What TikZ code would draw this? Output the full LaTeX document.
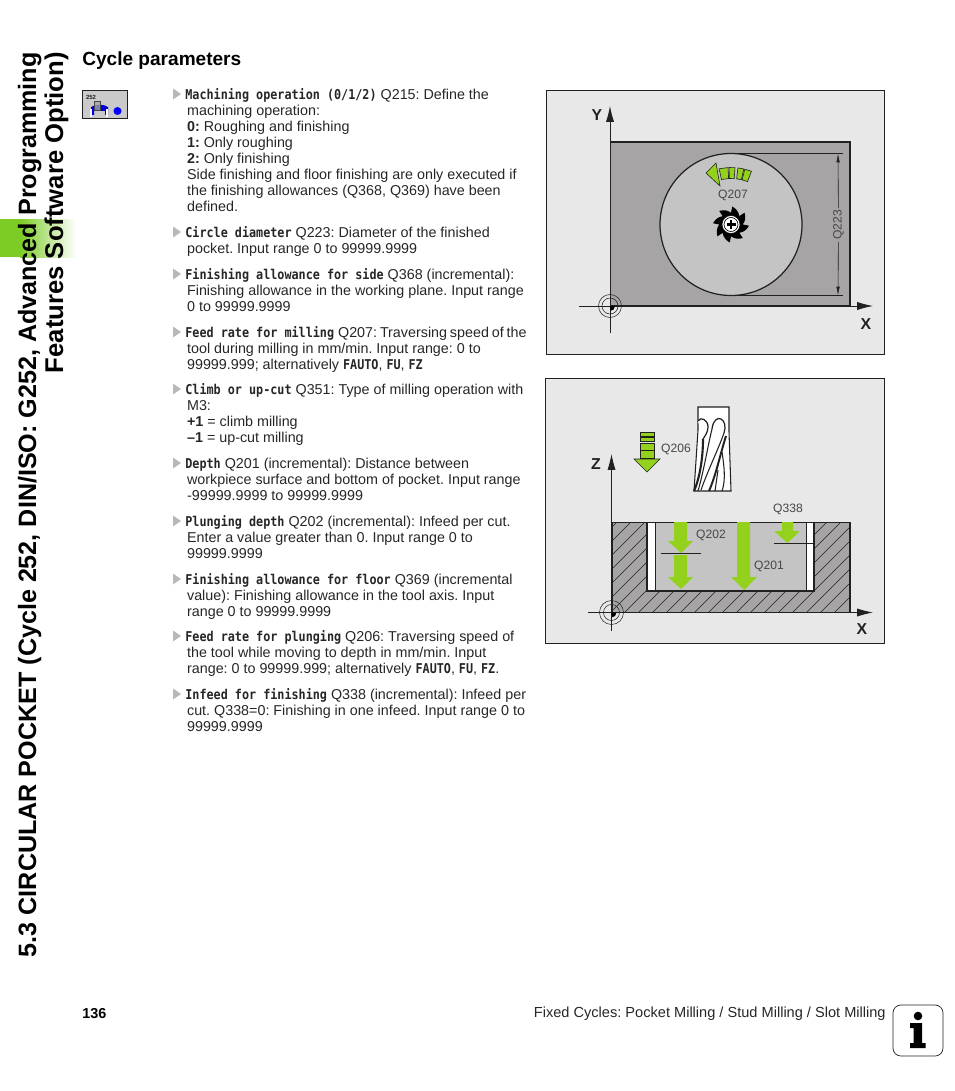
\documentclass[tikz,border=0pt]{standalone}
\usepackage{fontspec}
\usepackage{tikz}
\setmainfont{Liberation Sans}
\newfontfamily\cmdfont[FakeStretch = 0.87]{DejaVu Sans Mono}
\usetikzlibrary{arrows.meta}
\usetikzlibrary{positioning}
\definecolor{mgreen}{rgb}{0.58, 0.82, 0.11}
\definecolor{mbar}{rgb}{0.49, 0.80, 0.15}
\definecolor{mpanel}{rgb}{0.91, 0.91, 0.91}
\definecolor{mstock}{rgb}{0.65, 0.645, 0.645}
\definecolor{mpocket}{rgb}{0.77, 0.77, 0.77}
\definecolor{mink}{rgb}{0.13, 0.13, 0.13}
\definecolor{mtext}{rgb}{0.15, 0.15, 0.15}
\definecolor{mdim}{rgb}{0.28, 0.28, 0.28}
\definecolor{mtri}{rgb}{0.72, 0.72, 0.72}
\newcommand{\cmd}[1]{{\cmdfont\fontsize{7.7}{9.1}\selectfont\bfseries #1}}
\newcommand{\bodyfont}{\fontsize{8.15}{9.1}\selectfont\frenchspacing}
\tikzset{para/.style = {anchor = north west, inner sep = 0, align = left, font = \bodyfont, text = mtext}}
\tikzset{dimlabel/.style = {inner sep = 1, font = \fontsize{6.9}{8}\selectfont, text = mdim}}
\tikzset{axislabel/.style = {inner sep = 0, font = \fontsize{9}{10}\selectfont\bfseries, text = mink}}
\tikzset{sidetitle/.style = {anchor = base east, rotate = 90, inner sep = 0, text = black}}
\tikzset{axisline/.style = {draw = mink, line width = 0.45pt, -{Latex[length = 9pt, width = 4.6pt]}}}
\tikzset{thinline/.style = {draw = mink, line width = 0.4pt}}
\tikzset{dimarrow/.style = {draw = mink, line width = 0.35pt, -{Latex[length = 5pt, width = 2pt]}}}
\tikzset{greenpart/.style = {draw = mink, line width = 0.35pt, fill = mgreen}}
\tikzset{panel/.style = {draw = mink, line width = 0.45pt, fill = mpanel}}

\begin{document}
\begin{tikzpicture}[x = 0.02cm, y = -0.02cm]
      \useasboundingbox (0, 0) rectangle (954, 1091);

      \fill [mbar] (0, 219) rectangle (20, 257);
      \shade [left color = mbar, right color = white] (20, 219) rectangle (76, 257);
      \node (sideOne) at (36, 52) [sidetitle, font = \fontsize{14.3}{16}\selectfont\bfseries] {5.3 CIRCULAR POCKET (Cycle 252, DIN/ISO: G252, Advanced Programming};
      \node (sideTwo) at (63, 52) [sidetitle, font = \fontsize{14.6}{16}\selectfont\bfseries] {Features Software Option)};

      \node (title) at (82, 61) [anchor = west, inner sep = 0, font = \fontsize{10.85}{12}\selectfont\bfseries, text = black] {Cycle parameters};

      \draw [draw = mink, fill = mpocket!85!mpanel, line width = 0.4pt] (82, 90) rectangle (127, 118.5);
      \node (iconNum) at (91, 97) [inner sep = 0, font = \fontsize{3.4}{4}\selectfont\bfseries, text = mink] {252};
      \fill [blue!85!black] (91, 115) -- (91, 107) .. controls (96, 104) and (104, 104) .. (108, 107) -- (108, 115) -- (105, 115) -- (105, 111) -- (94, 111) -- (94, 115) -- cycle;
      \fill [white] (90, 109) rectangle (92, 117);
      \fill [white] (106, 109) rectangle (108, 117);
      \draw [fill = mstock, fill opacity = 0.8, draw = mdim, line width = 0.2pt] (94, 101) rectangle (100, 110);
      \fill [blue] (117.5, 111) circle (4);

      \foreach \ty in {94, 232, 274, 332, 389, 463, 521, 579, 636, 694} {
        \fill [mtri] (173, \ty - 5.5) -- (181, \ty) -- (173, \ty + 5.5) -- cycle;
      }

      \node (parOne) at (185, 88) [para] {\strut\cmd{Machining operation (0/1/2)} Q215: Define the\\\hspace{1pt}machining operation:\\\hspace{1pt}\textbf{0:} Roughing and finishing\\\hspace{1pt}\textbf{1:} Only roughing\\\hspace{1pt}\textbf{2:} Only finishing\\\hspace{1pt}Side finishing and floor finishing are only executed if\\\hspace{1pt}the finishing allowances (Q368, Q369) have been\\\hspace{1pt}defined.};
      \node (parTwo) at (185, 226) [para] {\strut\cmd{Circle diameter} Q223: Diameter of the finished\\\hspace{1pt}pocket. Input range 0 to 99999.9999};
      \node (parThree) at (185, 268) [para] {\strut\cmd{Finishing allowance for side} Q368 (incremental):\\\hspace{1pt}Finishing allowance in the working plane. Input range\\\hspace{1pt}0 to 99999.9999};
      \node (parFour) at (185, 326) [para] {\strut\cmd{Feed rate for milling} {\spaceskip = 0.2em Q207: Traversing speed of the}\\\hspace{1pt}tool during milling in mm/min. Input range: 0 to\\\hspace{1pt}99999.999; alternatively \cmd{FAUTO}, \cmd{FU}, \cmd{FZ}};
      \node (parFive) at (185, 383) [para] {\strut\cmd{Climb or up-cut} Q351: Type of milling operation with\\\hspace{1pt}M3:\\\hspace{1pt}\textbf{+1} = climb milling\\\hspace{1pt}\textbf{--1} = up-cut milling};
      \node (parSix) at (185, 457) [para] {\strut\cmd{Depth} Q201 (incremental): Distance between\\\hspace{1pt}workpiece surface and bottom of pocket. Input range\\\hspace{1pt}-99999.9999 to 99999.9999};
      \node (parSeven) at (185, 515) [para] {\strut\cmd{Plunging depth} Q202 (incremental): Infeed per cut.\\\hspace{1pt}Enter a value greater than 0. Input range 0 to\\\hspace{1pt}99999.9999};
      \node (parEight) at (185, 573) [para] {\strut\cmd{Finishing allowance for floor} Q369 (incremental\\\hspace{1pt}value): Finishing allowance in the tool axis. Input\\\hspace{1pt}range 0 to 99999.9999};
      \node (parNine) at (185, 630) [para] {\strut\cmd{Feed rate for plunging} Q206: Traversing speed of\\\hspace{1pt}the tool while moving to depth in mm/min. Input\\\hspace{1pt}range: 0 to 99999.999; alternatively \cmd{FAUTO}, \cmd{FU}, \cmd{FZ}.};
      \node (parTen) at (185, 688) [para] {\strut\cmd{Infeed for finishing} Q338 (incremental): Infeed per\\\hspace{1pt}cut. Q338=0: Finishing in one infeed. Input range 0 to\\\hspace{1pt}99999.9999};

      \draw [panel] (546.5, 90.5) rectangle (884.5, 354);
      \fill [mstock] (610, 142) rectangle (850, 306);
      \draw [mink, line width = 0.9pt] (610, 142) -- (850, 142) -- (850, 306) -- (610, 306);
      \draw [fill = mpocket, draw = mink, line width = 0.7pt] (731, 224.5) circle (71);
      \coordinate (dimTop) at (838, 153.5);
      \coordinate (dimBot) at (838, 295.5);
      \draw [thinline] (731, 153.5) -- (843, 153.5);
      \draw [thinline] (731, 295.5) -- (843, 295.5);
      \node (lblQ223) at (838.5, 225) [dimlabel, rotate = 90] {Q223};
      \draw [dimarrow] (lblQ223) -- (dimTop);
      \draw [dimarrow] (lblQ223) -- (dimBot);
      \node (lblQ207) at (733, 195) [dimlabel] {Q207};

      \begin{scope}[shift = {(731, 224.5)}]
        \foreach \aa/\ab in {258/267, 268/274, 277/283, 284/291} {
          \draw [greenpart] (\aa:46) -- (\aa:57) -- (\ab:57) -- (\ab:46) -- cycle;
        }
        \fill [black] (0:12) \foreach \ta in {0, 45, ..., 315} { -- (\ta:12) -- (\ta + 4:18) .. controls (\ta + 20:16.5) and (\ta + 32:14.5) .. (\ta + 43:12) } -- cycle;
        \draw [fill = white, draw = black, line width = 0.3pt] (0, 0) circle (9);
        \draw [black, line width = 0.35pt] (0, 0) circle (7);
        \fill [black] (-4.5, -1.1) rectangle (4.5, 1.1);
        \fill [black] (-1.1, -4.5) rectangle (1.1, 4.5);
      \end{scope}
      \draw [greenpart] (706, 173) -- (716, 163) -- (720, 186) -- cycle;

      \coordinate (yTail) at (610, 333);
      \coordinate (yTip) at (610, 106);
      \coordinate (xTailA) at (579, 306);
      \coordinate (xTipA) at (873, 306);
      \draw [axisline] (yTail) -- (yTip);
      \draw [axisline] (xTailA) -- (xTipA);
      \node (axisY) at (597, 115.5) [axislabel] {Y};
      \node (axisXA) at (866, 324) [axislabel] {X};
      \draw [mink, line width = 0.3pt] (610, 306) circle (11.5);
      \draw [mink, line width = 0.3pt] (610, 306) circle (8);
      \fill [black] (610, 306) -- (615, 306) arc (0:90:5) -- cycle;

      \draw [panel] (545.5, 378.5) rectangle (884.5, 643);

      \draw [fill = white, draw = mink, line width = 0.6pt] (698, 407) -- (729, 407) -- (729, 432) -- (731, 491) -- (694, 491) -- (698, 430) -- cycle;
      \draw [mink, line width = 0.7pt, fill = white] (698, 421) .. controls (701, 416) and (708, 420) .. (708, 427) .. controls (708, 432) and (705, 436) .. (703, 439);
      \draw [mink, line width = 0.7pt, fill = white] (712, 429) .. controls (713, 420) and (718, 417) .. (721, 419) .. controls (725, 421) and (726, 427) .. (724, 433);
      \draw [mink, line width = 1.2pt] (703, 439) .. controls (703, 460) and (699, 480) .. (694, 491);
      \draw [mink, line width = 0.6pt] (712, 429) .. controls (708, 445) and (704, 470) .. (698, 491);
      \draw [mink, line width = 0.6pt] (724, 433) .. controls (718, 450) and (708, 470) .. (701, 490);
      \draw [mink, line width = 1.1pt] (726, 436) .. controls (720, 455) and (716, 475) .. (709, 491);
      \draw [mink, line width = 0.6pt] (722, 452) .. controls (724, 465) and (726, 480) .. (722, 491);
      \draw [mink, line width = 0.6pt] (718, 470) -- (715, 491);

      \draw [greenpart] (640, 432) rectangle (654, 436);
      \draw [greenpart] (640, 437.5) rectangle (654, 441.5);
      \draw [greenpart] (640, 443.5) rectangle (654, 450.5);
      \draw [greenpart] (640, 450.5) rectangle (654, 458);
      \draw [greenpart] (634, 459) -- (660, 459) -- (647, 472) -- cycle;
      \node (lblQ206) at (676, 449) [dimlabel] {Q206};

      \fill [mstock] (612, 522) rectangle (850, 612.5);
      \begin{scope}
        \clip (612, 522) rectangle (850, 612.5);
        \foreach \hx in {500, 514, ..., 850} {
          \draw [mink, line width = 0.25pt] (\hx, 625) -- (\hx + 110, 515);
        }
      \end{scope}
      \draw [fill = mpocket, draw = none] (647, 522) rectangle (814, 591);
      \fill [white] (647, 522) rectangle (655.5, 591);
      \fill [white] (806, 522) rectangle (814, 591);
      \draw [mink, line width = 0.35pt] (612, 522) -- (850, 522);
      \draw [mink, line width = 0.5pt] (655.5, 522) -- (655.5, 591);
      \draw [mink, line width = 0.5pt] (806, 522) -- (806, 591);
      \draw [mink, line width = 0.9pt] (647, 522) -- (647, 591) -- (814, 591) -- (814, 522);
      \draw [mink, line width = 0.9pt] (850, 522) -- (850, 612.5) -- (612, 612.5) -- (612, 522);

      \fill [mgreen] (674, 522) -- (687, 522) -- (687, 541) -- (693, 541) -- (681, 553) -- (668, 541) -- (674, 541) -- cycle;
      \fill [mgreen] (674, 555) -- (687, 555) -- (687, 577) -- (693, 577) -- (681, 589) -- (668, 577) -- (674, 577) -- cycle;
      \fill [mgreen] (737, 522) -- (750, 522) -- (750, 577) -- (757, 577) -- (744, 590) -- (731, 577) -- (737, 577) -- cycle;
      \fill [mgreen] (782, 522) -- (793, 522) -- (793, 531) -- (800, 531) -- (787.5, 543) -- (774, 531) -- (782, 531) -- cycle;
      \draw [thinline] (661, 553) -- (701, 553);
      \draw [thinline] (774, 543) -- (814, 543);
      \node (lblQ202) at (711, 535.5) [dimlabel] {Q202};
      \node (lblQ201) at (769, 566) [dimlabel] {Q201};
      \node (lblQ338) at (788, 509) [dimlabel] {Q338};

      \coordinate (zTail) at (611.5, 631);
      \coordinate (zTip) at (611.5, 454);
      \coordinate (xTailB) at (588, 612.5);
      \coordinate (xTipB) at (873, 612.5);
      \draw [axisline] (zTail) -- (zTip);
      \draw [axisline] (xTailB) -- (xTipB);
      \node (axisZ) at (596, 464) [axislabel] {Z};
      \node (axisXB) at (862, 629) [axislabel] {X};
      \draw [mink, line width = 0.3pt] (611.5, 612.5) circle (12);
      \draw [mink, line width = 0.3pt] (611.5, 612.5) circle (8);
      \fill [black] (611.5, 612.5) -- (616.5, 612.5) arc (0:90:5) -- cycle;

      \node (pageNum) at (82, 1014) [anchor = west, inner sep = 0, font = \fontsize{8.2}{9}\selectfont\bfseries, text = black] {136};
      \node (footer) at (886, 1014) [anchor = east, inner sep = 0, font = \fontsize{8.3}{9}\selectfont\frenchspacing, text = mtext] {Fixed Cycles: Pocket Milling / Stud Milling / Slot Milling};

      \draw [draw = mink, fill = white, line width = 0.4pt, rounded corners = 4.5pt] (893, 1005) rectangle (943, 1056);
      \fill [black] (918, 1016) circle (4.3);
      \fill [black] (910, 1023) -- (922, 1023) -- (922, 1043) -- (925.5, 1043) -- (925.5, 1048) -- (910, 1048) -- (910, 1043) -- (913.5, 1043) -- (913.5, 1028) -- (910, 1028) -- cycle;
    \end{tikzpicture}
\end{document}
